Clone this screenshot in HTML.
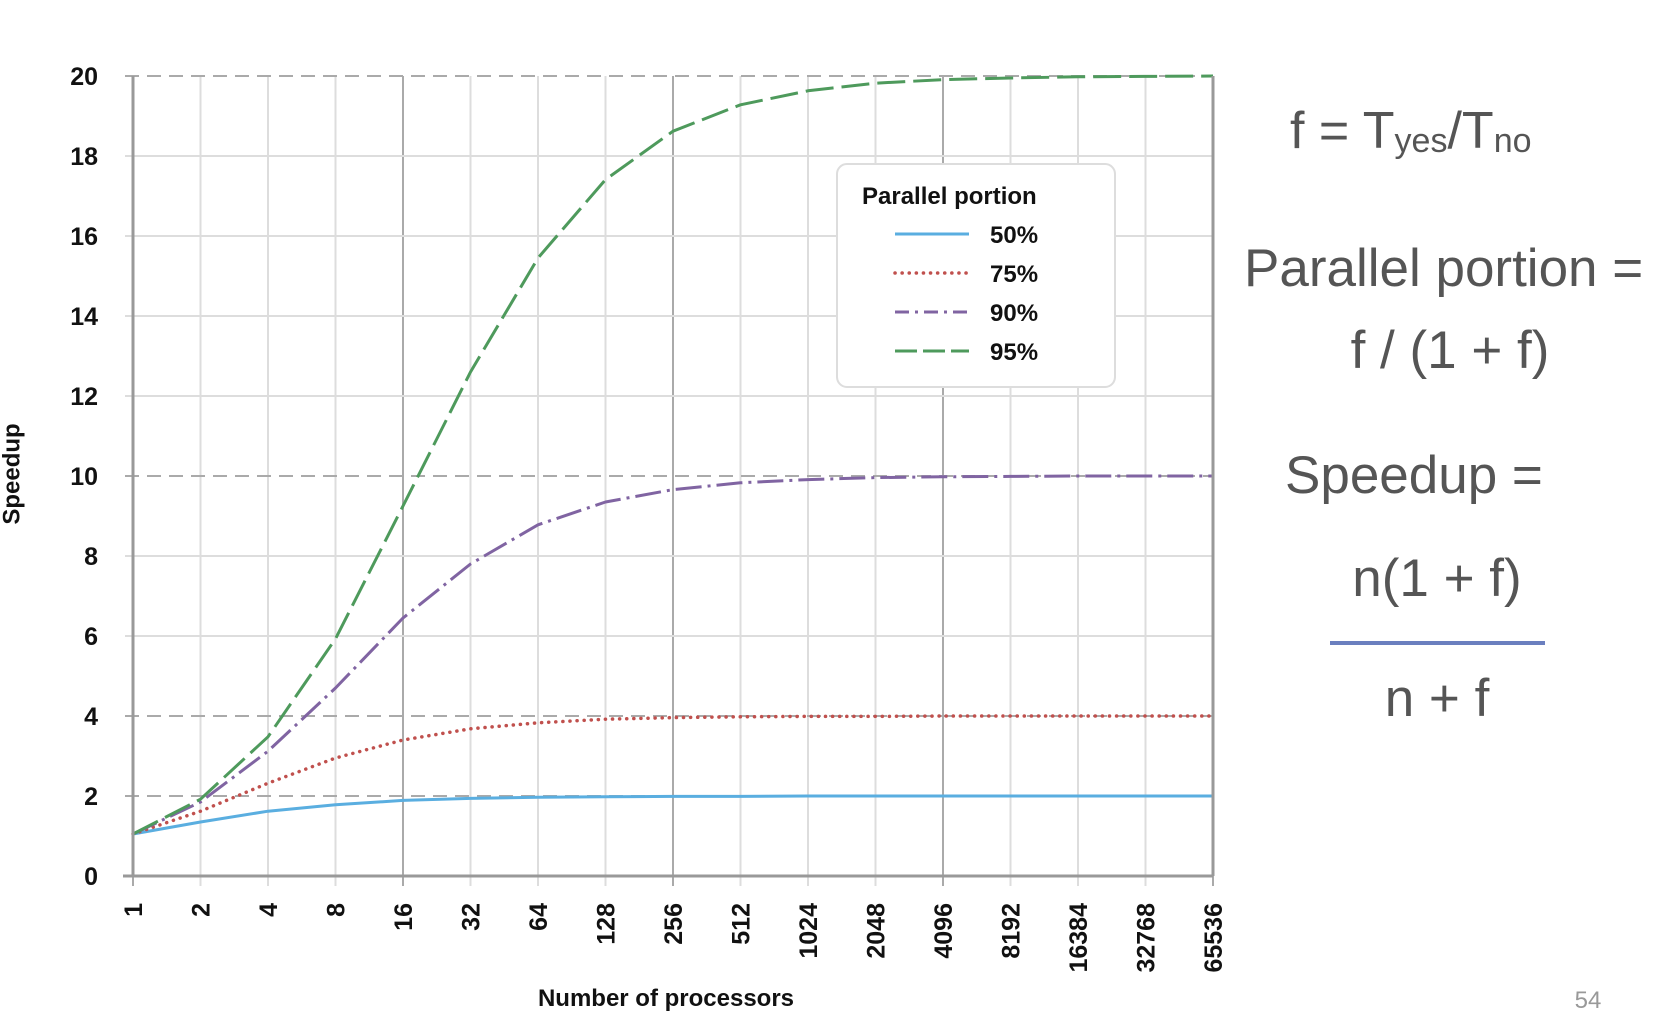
<!DOCTYPE html>
<html><head><meta charset="utf-8"><style>
html,body{margin:0;padding:0;background:#fff;}
svg{display:block;}
text{font-family:"Liberation Sans",sans-serif;}
</style></head><body>
<svg id="chart" width="1668" height="1034" viewBox="0 0 1668 1034">
<g id="grid"></g>
<g id="series"></g>
<g id="axes"></g>
<text x="13" y="474" transform="rotate(-90 13 474)" text-anchor="middle" dominant-baseline="middle" font-size="24" font-weight="bold" fill="#111">Speedup</text>
<text x="666" y="1006" text-anchor="middle" font-size="24" font-weight="bold" fill="#111">Number of processors</text>
<g>
<rect x="837" y="164" width="278" height="223" rx="10" fill="#fff" stroke="#ddd" stroke-width="2"/>
<text x="862" y="204" font-size="24" font-weight="bold" fill="#111">Parallel portion</text>
<g id="legend-entries"></g>
</g>
<g fill="#555">
<text x="1290" y="148" font-size="52">f = T<tspan font-size="34" dy="4">yes</tspan><tspan dy="-4">/T</tspan><tspan font-size="34" dy="4">no</tspan></text>
<text x="1244" y="286" font-size="53">Parallel portion =</text>
<text x="1450" y="368" font-size="53" text-anchor="middle">f / (1 + f)</text>
<text x="1285" y="493" font-size="53">Speedup =</text>
<text x="1437" y="596" font-size="53" text-anchor="middle">n(1 + f)</text>
<rect x="1330" y="641" width="215" height="4" fill="#6b7fbf"/>
<text x="1437" y="716" font-size="53" text-anchor="middle">n + f</text>
<text x="1588" y="1008" font-size="24" text-anchor="middle" fill="#999">54</text>
</g>
</svg>
<script>
const categories = ["1","2","4","8","16","32","64","128","256","512","1024","2048","4096","8192","16384","32768","65536"];
const yTicks = [0,2,4,6,8,10,12,14,16,18,20];
const seriesNames = ["50%","75%","90%","95%"];
const s50 = [1.05,1.35,1.62,1.78,1.89,1.94,1.97,1.98,1.99,1.99,2,2,2,2,2,2,2];
const s75 = [1.05,1.62,2.32,2.95,3.4,3.68,3.83,3.92,3.96,3.98,3.99,3.99,4,4,4,4,4];
const s90 = [1.05,1.85,3.12,4.7,6.45,7.8,8.78,9.35,9.66,9.83,9.91,9.96,9.98,9.99,10,10,10];
const s95 = [1.05,1.92,3.48,5.93,9.25,12.6,15.45,17.41,18.62,19.28,19.63,19.82,19.91,19.95,19.98,19.99,20];
const dashedLevels = [2,4,10,20];

const NS="http://www.w3.org/2000/svg";
const X0=133, X1=1213, Y0=876, Y1=76, YMAX=20;
function xPos(i){return X0+(X1-X0)*i/(categories.length-1);}
function yPos(v){return Y0-(Y0-Y1)*v/YMAX;}
function mk(tag,attrs,parent){const e=document.createElementNS(NS,tag);for(const k in attrs)e.setAttribute(k,attrs[k]);parent.appendChild(e);return e;}
const grid=document.getElementById('grid'), axes=document.getElementById('axes'), ser=document.getElementById('series');

categories.forEach((c,i)=>{
  const x=xPos(i);
  const major=(i%4===0);
  const l=mk('line',{x1:x,x2:x,y1:Y1,y2:Y0+10,stroke:major?'#aaa':'#ddd','stroke-width':2},grid);
  
  
  const t=mk('text',{x:0,y:0,transform:`translate(${x+9},${Y0+27}) rotate(-90)`,'text-anchor':'end','font-size':25,'font-weight':'bold',fill:'#111'},axes);
  t.textContent=c;
  
  
});
yTicks.forEach(v=>{
  const y=yPos(v);
  const dashed=dashedLevels.includes(v);
  if(v>0){
    const l=mk('line',{x1:X0-8,x2:X1,y1:y,y2:y,stroke:dashed?'#aaa':'#ddd','stroke-width':2},grid);
    if(dashed)l.setAttribute('stroke-dasharray','14 8');
    
    
  }
  const t=mk('text',{x:98,y:y+9,'text-anchor':'end','font-size':25,'font-weight':'bold',fill:'#111'},axes);
  t.textContent=v;
  
  
});
const ya=mk('line',{x1:X0,x2:X0,y1:Y1,y2:Y0,stroke:'#999','stroke-width':3},axes);


const ra=mk('line',{x1:X1,x2:X1,y1:Y1,y2:Y0,stroke:'#999','stroke-width':3},axes);


const xa=mk('line',{x1:X0-10,x2:X1,y1:Y0,y2:Y0,stroke:'#999','stroke-width':3},axes);



const styles=[
 {color:'#5aaee0',dash:'',cap:'butt'},
 {color:'#c0504d',dash:'0.1 7',cap:'round'},
 {color:'#8064a2',dash:'26 6 3 6',cap:'butt'},
 {color:'#4e9a5c',dash:'28 8',cap:'butt'}
];
const data=[s50,s75,s90,s95];
data.forEach((arr,si)=>{
  const st=styles[si];
  const d=arr.map((v,i)=>(i?'L':'M')+xPos(i).toFixed(1)+' '+yPos(v).toFixed(1)).join(' ');
  const p=mk('path',{d:d,fill:'none',stroke:st.color,'stroke-width':si===1?3.5:3,'stroke-linecap':st.cap,'stroke-linejoin':'round'},ser);
  if(st.dash)p.setAttribute('stroke-dasharray',st.dash);
  
  
  const le=document.getElementById('legend-entries');
  const ly=234+si*39;
  const ll=mk('line',{x1:895,x2:969,y1:ly,y2:ly,stroke:st.color,'stroke-width':si===1?3.5:3,'stroke-linecap':st.cap},le);
  if(st.dash)ll.setAttribute('stroke-dasharray',si===1?'0.1 7':(si===2?'14 6 3 6':'22 6'));
  
  
  const lt=mk('text',{x:990,y:ly+9,'font-size':24,'font-weight':'bold',fill:'#111'},le);
  lt.textContent=seriesNames[si];
  
  
});
</script>
</body></html>
